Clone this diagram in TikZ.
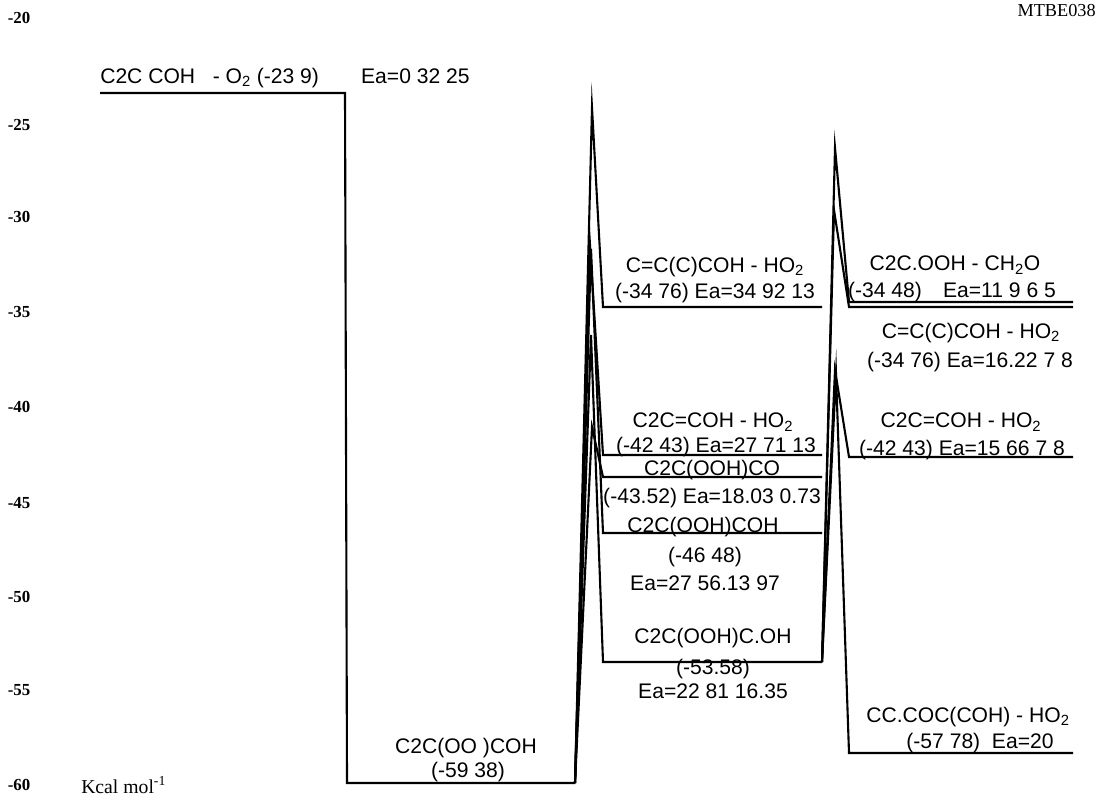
\documentclass[tikz,border=0pt]{standalone}
\usepackage{fontspec}
\setmainfont{Liberation Sans}
\newfontfamily\axisfont{Liberation Serif}
\usetikzlibrary{positioning}

\tikzset{
  level/.style={line width=1.5pt},
  barrier/.style={line width=1.5pt, line join=miter, miter limit=25},
  spec/.style={font=\fontsize{15}{17}\selectfont, inner sep=0pt},
  tick/.style={font=\axisfont\bfseries\fontsize{12}{14}\selectfont, inner sep=0pt}
}

\begin{document}
\begin{tikzpicture}[x=0.025cm,y=-0.025cm]
    \useasboundingbox (0,0) rectangle (1097,807);

    % energy axis
    \foreach \e/\yy [count=\i] in {-20/18,-25/125,-30/217,-35/312,-40/407,-45/503,-50/597,-55/690,-60/785}
        \node[tick] (ax\i) at (19,\yy) {\e};
    \node[tick, font=\axisfont\fontsize{14}{16}\selectfont, anchor=west] (unit) at (81,785) {Kcal mol\textsuperscript{-1}};
    \node[tick, font=\axisfont\fontsize{13}{15}\selectfont, anchor=east] (tag) at (1096,11) {MTBE038};

    % entrance channel and well
    \coordinate (r0) at (100,93);
    \coordinate (r1) at (345,93);
    \coordinate (w0) at (347,783);
    \coordinate (w1) at (575,783);
    \draw[level] (r0) -- (r1) -- (w0) -- (w1);

    % first set of barriers, out of the well
    \foreach \n/\tx/\ty/\py in {a/592/108/307, b/590/245/455, c/592/427/477, d/591/249/533, e/591/335/662} {
        \coordinate (tip\n) at (\tx,\ty);
        \coordinate (p\n0) at (603,\py);
        \coordinate (p\n1) at (822,\py);
        \draw[barrier] (w1) -- (tip\n) -- (p\n0) -- (p\n1);
    }

    % second set of barriers, out of C2C(OOH)C.OH
    \foreach \n/\tx/\ty/\py in {f/835/148/302, g/834/210/307, h/835/370/457, k/836/374/753} {
        \coordinate (tip\n) at (\tx,\ty);
        \coordinate (q\n0) at (849,\py);
        \coordinate (q\n1) at (1073,\py);
        \draw[barrier] (pe1) -- (tip\n) -- (q\n0) -- (q\n1);
    }

    % labels
    \node[spec, anchor=west] (lr) at (100,78) {C2C COH\ \ \ - O\textsubscript{2} (-23 9)\qquad Ea=0 32 25};
    \node[spec] (lw1) at (466,748) {C2C(OO )COH};
    \node[spec] (lw2) at (468,772) {(-59 38)};

    \node[spec] (la1) at (715,267) {C=C(C)COH - HO\textsubscript{2}};
    \node[spec] (la2) at (715,293) {(-34 76) Ea=34 92 13};
    \node[spec] (lb1) at (713,422) {C2C=COH - HO\textsubscript{2}};
    \node[spec] (lb2) at (716,447) {(-42 43) Ea=27 71 13};
    \node[spec] (lc1) at (712,470) {C2C(OOH)CO};
    \node[spec] (lc2) at (712,498) {(-43.52) Ea=18.03 0.73};
    \node[spec] (ld1) at (703,527) {C2C(OOH)COH};
    \node[spec] (ld2) at (705,557) {(-46 48)};
    \node[spec] (ld3) at (705,583) {Ea=27 56.13 97};
    \node[spec] (le1) at (713,638) {C2C(OOH)C.OH};
    \node[spec] (le2) at (713,669) {(-53.58)};
    \node[spec] (le3) at (713,691) {Ea=22 81 16.35};

    \node[spec] (lf1) at (955,265) {C2C.OOH - CH\textsubscript{2}O};
    \node[spec] (lf2) at (952,292) {(-34 48)\quad Ea=11 9 6 5};
    \node[spec] (lg1) at (971,333) {C=C(C)COH - HO\textsubscript{2}};
    \node[spec] (lg2) at (970,362) {(-34 76) Ea=16.22 7 8};
    \node[spec] (lh1) at (961,422) {C2C=COH - HO\textsubscript{2}};
    \node[spec] (lh2) at (962,450) {(-42 43) Ea=15 66 7 8};
    \node[spec, anchor=west] (lk1) at (866,717) {CC.COC(COH) - HO\textsubscript{2}};
    \node[spec] (lk2) at (980,743) {(-57 78)\ \ Ea=20};
\end{tikzpicture}
\end{document}
